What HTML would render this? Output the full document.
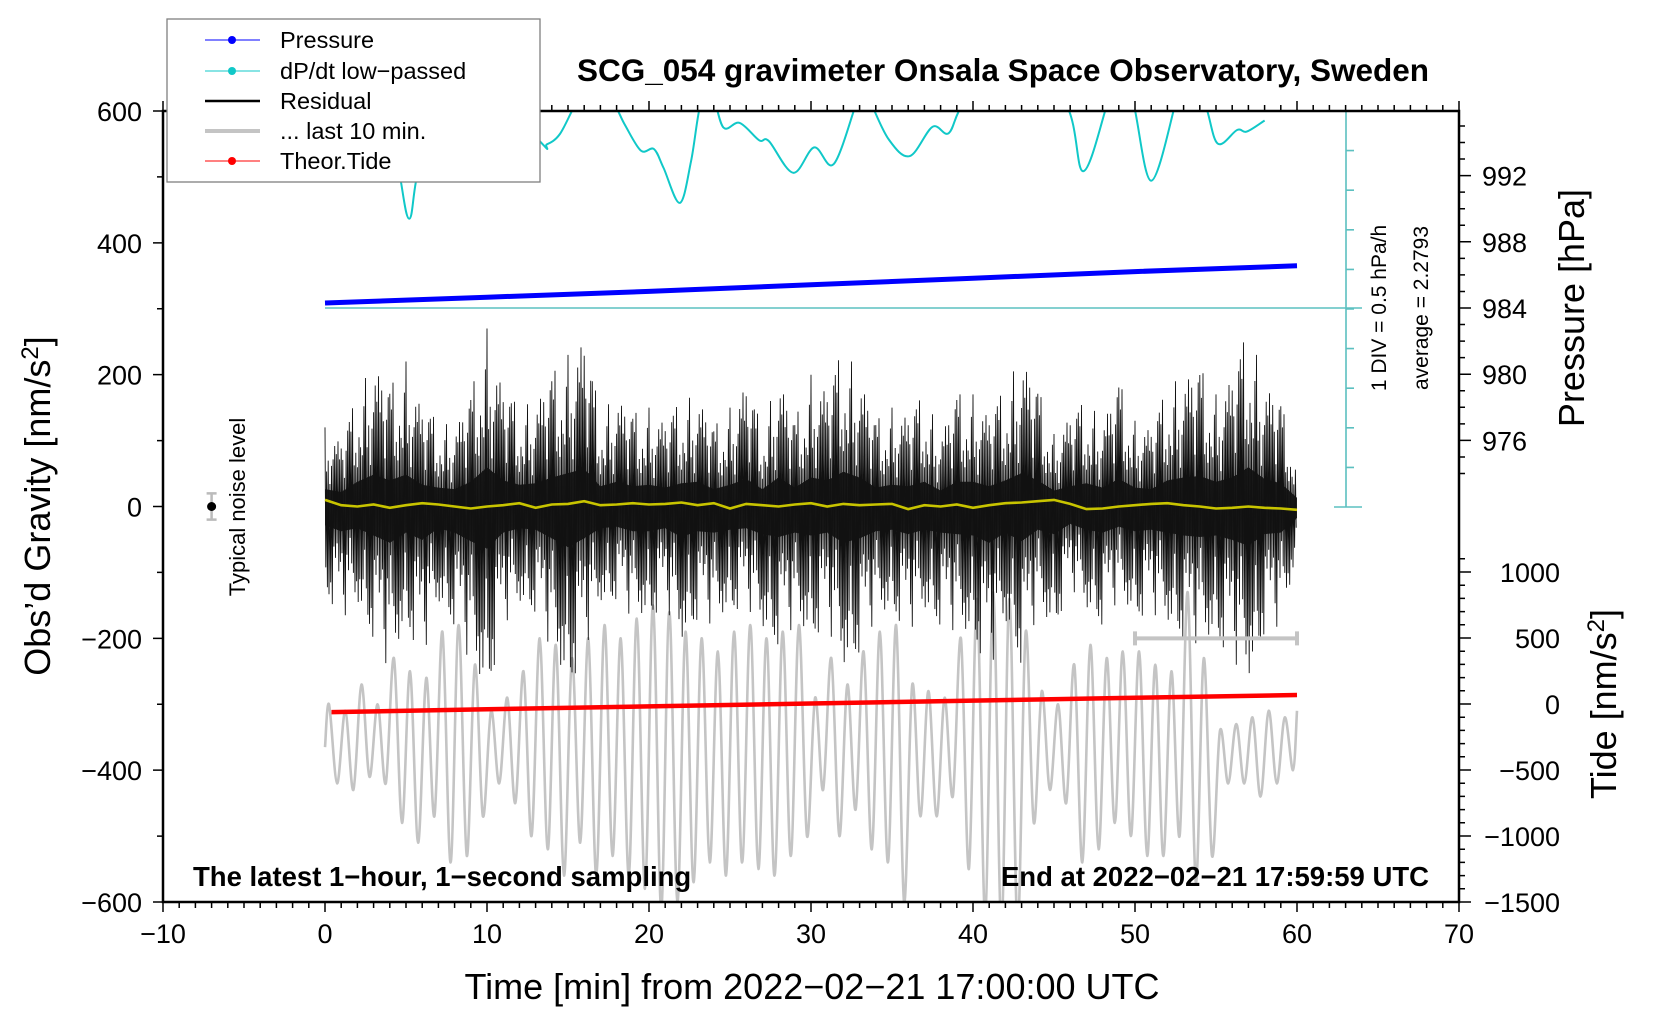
<!DOCTYPE html>
<html><head><meta charset="utf-8"><style>
html,body{margin:0;padding:0;background:#fff;}
svg{display:block;font-family:"Liberation Sans",Arial,sans-serif;}
</style></head><body>
<svg id="chart" width="1660" height="1020" viewBox="0 0 1660 1020">
<defs><clipPath id="plotclip"><rect x="163" y="111" width="1296" height="791"/></clipPath></defs>
<g id="layer-tide-gray" clip-path="url(#plotclip)"></g>
<g id="layer-resid" clip-path="url(#plotclip)"></g>
<g id="layer-front" clip-path="url(#plotclip)"></g>
<g id="layer-axes"></g>
<g id="layer-text"></g>
</svg>
<script>
// ---- data ----
const xTicks = [-10,0,10,20,30,40,50,60,70];
const gTicks = [600,400,200,0,-200,-400,-600];
const pTicks = [992,988,984,980,976];
const tideTicks = [1000,500,0,-500,-1000,-1500];
const residMinutes = [0,1,2,3,4,5,6,7,8,9,10,11,12,13,14,15,16,17,18,19,20,21,22,23,24,25,26,27,28,29,30,31,32,33,34,35,36,37,38,39,40,41,42,43,44,45,46,47,48,49,50,51,52,53,54,55,56,57,58,59,60];
const residUpper = [120,100,170,220,180,220,150,130,120,170,270,180,150,160,200,230,260,140,170,140,150,130,160,170,120,150,190,120,200,130,200,180,240,200,130,150,140,170,110,170,170,140,180,230,180,110,140,160,130,190,130,120,180,200,210,170,200,270,190,160,60];
const residLower = [-130,-170,-150,-200,-250,-180,-230,-150,-180,-240,-290,-180,-150,-160,-220,-280,-220,-150,-140,-170,-170,-150,-210,-170,-180,-160,-150,-190,-210,-180,-200,-180,-250,-220,-170,-160,-190,-160,-180,-190,-200,-250,-180,-240,-160,-190,-120,-160,-180,-140,-170,-160,-180,-200,-210,-200,-230,-270,-190,-180,-80];
const smoothResid = [10,2,0,3,-2,2,5,3,0,-3,0,2,5,-2,3,4,8,2,3,5,3,4,6,2,5,-3,4,2,0,3,5,0,4,2,3,4,-4,2,0,3,-2,2,5,6,8,10,4,-4,-3,0,2,4,5,2,0,-3,-2,0,-2,-3,-5];
const grayPeaks = [-300,-310,-270,-300,-230,-250,-260,-190,-180,-240,-310,-290,-250,-200,-210,-230,-200,-180,-200,-170,-150,-160,-190,-200,-220,-190,-180,-200,-190,-180,-290,-230,-270,-220,-190,-180,-270,-280,-290,-200,-140,-130,-140,-190,-280,-300,-240,-210,-230,-220,-220,-240,-250,-130,-230,-340,-330,-320,-310,-320];
const grayTroughs = [-420,-430,-410,-420,-480,-510,-470,-540,-530,-470,-420,-450,-500,-520,-560,-510,-560,-530,-560,-580,-610,-600,-570,-540,-560,-540,-550,-560,-530,-500,-430,-500,-460,-520,-540,-600,-470,-470,-440,-550,-620,-640,-640,-480,-430,-450,-540,-520,-480,-500,-530,-530,-500,-570,-530,-420,-420,-440,-420,-400];
const grayStart = -365, grayEnd = -310;
const pressTimes = [0,10,20,30,40,50,60];
const pressVals = [984.3,984.65,985.0,985.4,985.8,986.2,986.55];
const tideTimes = [0,10,20,30,40,50,60];
const tideVals = [-61,-40,-18,4,26,47,68];
const dpTimes = [0,3,4.4,5.2,6,9,13.3,13.7,14.5,15.5,16.5,17.8,18.5,19.5,20.3,20.9,21.9,22.6,23.2,23.9,24.6,25.6,26.8,27.4,28.9,30.2,31.4,32.8,33.2,33.7,34.8,36.1,37.5,38.5,39.4,42,45.7,46.8,48.3,49,49.9,51,52.5,53,54.3,55.1,56.3,56.9,58.0];
const dpVals = [5.6,5.3,4.4,3.64,4.4,5.6,4.61,4.58,4.71,5.1,5.4,5.1,4.83,4.50,4.52,4.28,3.84,4.37,5.1,5.2,4.79,4.85,4.63,4.62,4.22,4.54,4.33,5.1,5.3,5.1,4.64,4.43,4.80,4.72,5.1,5.8,5.1,4.24,5.1,5.6,5.1,4.12,5.1,5.6,5.1,4.59,4.76,4.74,4.88];
const noiseT = -7, noiseErr = 20;
const lastBarT = [50,60], lastBarG = -200;

// ---- axes functions ----
const X0=163, X1=1459, Y0=111, Y1=902;
const xs = t => X0 + (t+10)/80*(X1-X0);
const gy = v => Y0 + (600-v)/1200*(Y1-Y0);
const py = p => 308 - (p-984)*16.55;
const ty = v => 704 - v*0.132;
const dpy = v => 507 - v/0.5*39.6;
const NS='http://www.w3.org/2000/svg';
function mk(tag, attrs, parent){const e=document.createElementNS(NS,tag);for(const k in attrs)e.setAttribute(k,attrs[k]);parent.appendChild(e);return e;}
const Lg=document.getElementById('layer-tide-gray'), Lr=document.getElementById('layer-resid'), Lf=document.getElementById('layer-front'), La=document.getElementById('layer-axes'), Lt=document.getElementById('layer-text');

function smoothPath(pts){
  let d='M'+pts[0][0].toFixed(1)+','+pts[0][1].toFixed(1);
  for(let i=0;i<pts.length-1;i++){
    const p0=pts[Math.max(0,i-1)],p1=pts[i],p2=pts[i+1],p3=pts[Math.min(pts.length-1,i+2)];
    const c1=[p1[0]+(p2[0]-p0[0])/6,p1[1]+(p2[1]-p0[1])/6], c2=[p2[0]-(p3[0]-p1[0])/6,p2[1]-(p3[1]-p1[1])/6];
    d+=' C'+c1[0].toFixed(1)+','+c1[1].toFixed(1)+' '+c2[0].toFixed(1)+','+c2[1].toFixed(1)+' '+p2[0].toFixed(1)+','+p2[1].toFixed(1);
  }
  return d;
}

// gray series
{
  const pts=[[xs(0),gy(grayStart)]];
  for(let i=0;i<grayPeaks.length;i++){pts.push([xs(i+0.25),gy(grayPeaks[i])]);pts.push([xs(i+0.75),gy(grayTroughs[i])]);}
  pts.push([xs(60),gy(grayEnd)]);
  const p=mk('path',{d:smoothPath(pts),fill:'none',stroke:'#c4c4c4','stroke-width':2.6},Lg);
  
  
}
// residual
{
  const pattern=[1.0,0.7,0.45,0.9,0.6,0.95,0.3,0.8,0.55,1.0,0.65,0.4,0.85,0.5,0.75,0.35,0.95,0.6,0.7,0.5,0.88,0.42,0.66,0.8,0.38];
  const n=20;
  let d='';
  let k=0;
  for(let i=0;i<residMinutes.length-1;i++){
    for(let j=0;j<n;j++){
      const f=j/n, t=residMinutes[i]+f;
      const up=residUpper[i]*(1-f)+residUpper[i+1]*f, lo=residLower[i]*(1-f)+residLower[i+1]*f;
      const a=pattern[k%pattern.length];
      const v=(k%2===0)?up*a:lo*a;
      d+=(d?' L':'M')+xs(t).toFixed(1)+','+gy(v).toFixed(1);
      k++;
    }
  }
  let core='';
  for(let i=0;i<residMinutes.length;i++) core+=(core?' L':'M')+xs(residMinutes[i]).toFixed(1)+','+gy(residUpper[i]*0.22).toFixed(1);
  for(let i=residMinutes.length-1;i>=0;i--) core+=' L'+xs(residMinutes[i]).toFixed(1)+','+gy(residLower[i]*0.22).toFixed(1);
  const c=mk('path',{d:core+'Z',fill:'#222'},Lr);
  
  
  const p=mk('path',{d:d,fill:'none',stroke:'#111','stroke-width':0.9},Lr);
  
  
  let yd='';
  for(let i=0;i<smoothResid.length;i++) yd+=(yd?' L':'M')+xs(i).toFixed(1)+','+gy(smoothResid[i]).toFixed(1);
  const y=mk('path',{d:yd,fill:'none',stroke:'#c8c400','stroke-width':2.6},Lr);
  
  
}
// tide red
{
  let d='';tideTimes.forEach((t,i)=>{d+=(d?' L':'M')+xs(t).toFixed(1)+','+ty(tideVals[i]).toFixed(1);});
  d=d.replace(/^M[0-9.]+/, 'M'+xs(0.4).toFixed(1));
  const p=mk('path',{d:d,fill:'none',stroke:'#ff0000','stroke-width':4.5},Lf);
  
  
}
// pressure blue
{
  let d='';pressTimes.forEach((t,i)=>{d+=(d?' L':'M')+xs(t).toFixed(1)+','+py(pressVals[i]).toFixed(1);});
  const p=mk('path',{d:d,fill:'none',stroke:'#0000ff','stroke-width':5},Lf);
  
  
}
// cyan dp/dt
{
  const pts=dpTimes.map((t,i)=>[xs(t),dpy(dpVals[i])]);
  const p=mk('path',{d:smoothPath(pts),fill:'none',stroke:'#10c8c8','stroke-width':2},Lf);
  
  
}
// noise & last-10 bar
{
  const gx=xs(noiseT);
  const e=mk('path',{d:`M${gx},${gy(noiseErr)} L${gx},${gy(-noiseErr)} M${gx-5},${gy(noiseErr)} L${gx+5},${gy(noiseErr)} M${gx-5},${gy(-noiseErr)} L${gx+5},${gy(-noiseErr)}`,stroke:'#bbb','stroke-width':2.5,fill:'none'},La);
  
  
  const c=mk('circle',{cx:gx,cy:gy(0),r:4.5,fill:'#000'},La);
  
  
  const a=xs(lastBarT[0]),b=xs(lastBarT[1]),yy=gy(lastBarG);
  const l=mk('path',{d:`M${a},${yy} L${b},${yy} M${a},${yy-7} L${a},${yy+7} M${b},${yy-7} L${b},${yy+7}`,stroke:'#c4c4c4','stroke-width':4,fill:'none'},Lf);
  
  
}
// cyan scale
{
  const sx=1346;
  let d=`M${sx},${Y0} L${sx},507 M${sx-12},507 L${sx+16},507 M${xs(0)},${py(984)} L${sx+16},${py(984)}`;
  for(let i=1;i<10;i++){const y=507-i*39.6;d+=` M${sx},${y} L${sx+8},${y}`;}
  const p=mk('path',{d:d,stroke:'#5cc0c0','stroke-width':1.6,fill:'none'},La);
  
  
}
// frame
{
  const f=mk('rect',{x:X0,y:Y0,width:X1-X0,height:Y1-Y0,fill:'none',stroke:'#000','stroke-width':2.5},La);
  
  
  let d='';
  for(let t=-10;t<=70;t++){const x=xs(t);const L=(t%10===0)?10:6;d+=`M${x},${Y1} L${x},${Y1+L} M${x},${Y0} L${x},${Y0-L} `;}
  for(let v=-600;v<=600;v+=100){const y=gy(v);const L=(v%200===0)?10:6;d+=`M${X0},${y} L${X0-L},${y} `;}
  for(let p=974;p<=996;p++){const y=py(p);if(y<Y0||y>520)continue;const L=(p%4===0)?12:6;d+=`M${X1},${y} L${X1+L},${y} `;}
  for(let v=-1500;v<=1100;v+=100){const y=ty(v);if(y<540)continue;const L=(v%500===0)?12:6;d+=`M${X1},${y} L${X1+L},${y} `;}
  const tk=mk('path',{d:d,stroke:'#000','stroke-width':1.5,fill:'none'},La);
  
  
}
function txt(s,attrs,name){const e=mk('text',attrs,Lt);e.textContent=s;return e;}
xTicks.forEach(t=>{
  txt(String(t).replace('-','\u2212'),{x:xs(t),y:943,'font-size':27,'text-anchor':'middle'},'x-tick-label');
});
gTicks.forEach(v=>{txt(String(v).replace('-','\u2212'),{x:142,y:gy(v)+10,'font-size':27,'text-anchor':'end'},'y-tick-label');});
pTicks.forEach(v=>{txt(String(v),{x:1482,y:py(v)+10,'font-size':27},'pressure-tick-label');});
tideTicks.forEach(v=>{txt(String(v).replace('-','\u2212'),{x:1560,y:ty(v)+10,'font-size':27,'text-anchor':'end'},'tide-tick-label');});
txt('Time [min] from 2022\u221202\u221221 17:00:00 UTC',{x:812,y:999,'font-size':36,'text-anchor':'middle'},'x-axis-title');
{
  const e=txt('',{transform:'translate(50,506) rotate(-90)','font-size':36,'text-anchor':'middle'},'y-axis-title');
  e.innerHTML='Obs\u2019d Gravity [nm/s<tspan dy="-12" font-size="24">2</tspan><tspan dy="12">]</tspan>';
}
txt('Pressure [hPa]',{transform:'translate(1584,308) rotate(-90)','font-size':36,'text-anchor':'middle'},'pressure-axis-title');
{
  const e=txt('',{transform:'translate(1616,704) rotate(-90)','font-size':36,'text-anchor':'middle'},'tide-axis-title');
  e.innerHTML='Tide [nm/s<tspan dy="-12" font-size="24">2</tspan><tspan dy="12">]</tspan>';
}
txt('SCG_054 gravimeter Onsala Space Observatory, Sweden',{x:1003,y:81,'font-size':31.5,'font-weight':'bold','text-anchor':'middle'},'chart-title');
txt('The latest 1\u2212hour, 1\u2212second sampling',{x:193,y:886,'font-size':27.5,'font-weight':'bold'},'sampling-note');
txt('End at 2022\u221202\u221221 17:59:59 UTC',{x:1429,y:886,'font-size':27.5,'font-weight':'bold','text-anchor':'end'},'end-time-note');
txt('1 DIV = 0.5 hPa/h',{transform:'translate(1386,308) rotate(-90)','font-size':21,'text-anchor':'middle'},'div-scale-label');
txt('average = 2.2793',{transform:'translate(1428,308) rotate(-90)','font-size':21,'text-anchor':'middle'},'average-label');
txt('Typical noise level',{transform:'translate(245,507) rotate(-90)','font-size':22,'text-anchor':'middle'},'noise-label');
// legend
{
  const g=mk('g',{},Lt);
  
  
  const r=mk('rect',{x:167,y:19,width:373,height:163,fill:'#fff',stroke:'#808080','stroke-width':1.3},g);
  
  
  const items=[['Pressure','#0000ff',1,true],['dP/dt low\u2212passed','#10c8c8',1,true],['Residual','#000',2.5,false],['... last 10 min.','#c4c4c4',4,false],['Theor.Tide','#ff0000',1,true]];
  const rows=[40,71,101,131,161];
  items.forEach((it,i)=>{
    const y=rows[i];
    const l=mk('line',{x1:205,x2:260,y1:y,y2:y,stroke:it[1],'stroke-width':it[2]},g);
    
    
    if(it[3]){const c=mk('circle',{cx:232,cy:y,r:4,fill:it[1]},g);}
    const t=mk('text',{x:280,y:y+8,'font-size':23.5},g);t.textContent=it[0];
    
    
  });
}
</script>
</body></html>
